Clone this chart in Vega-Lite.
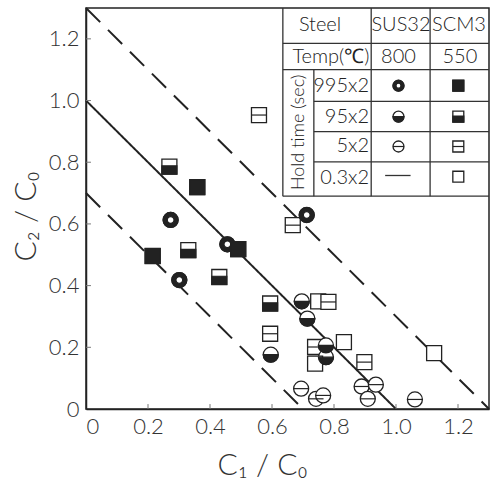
{
  "$schema": "https://vega.github.io/schema/vega-lite/v6.json",
  "width": 403,
  "height": 401,
  "autosize": {"type": "none"},
  "padding": {"left": 86, "top": 8, "right": 9, "bottom": 72},
  "background": "white",
  "resolve": {"scale": {"shape": "independent", "strokeDash": "independent"}},
  "config": {
    "view": {"stroke": "#222", "strokeWidth": 1.5},
    "font": "Lato",
    "axis": {
      "grid": false,
      "domainColor": "#222",
      "domainWidth": 1.5,
      "ticks": false,
      "labelFont": "Lato",
      "labelFontWeight": 300,
      "labelFontSize": 22,
      "labelColor": "#333",
      "titleFont": "Lato",
      "titleFontWeight": 300,
      "titleFontSize": 30,
      "titleColor": "#333"
    }
  },
  "datasets": {
    "lines": [
      {"x1": 0, "y1": 1.3, "x2": 1.3, "y2": 0, "style": "dashed"},
      {"x1": 0, "y1": 1.0, "x2": 1.0, "y2": 0, "style": "solid"},
      {"x1": 0, "y1": 0.7, "x2": 0.7, "y2": 0, "style": "dashed"}
    ],
    "ticks": [
      {"v": 0.2}, {"v": 0.4}, {"v": 0.6}, {"v": 0.8}, {"v": 1.0}, {"v": 1.2}
    ],
    "grid": [
      {"x1": 0.635, "y1": 1.185, "x2": 1.3, "y2": 1.185},
      {"x1": 0.635, "y1": 1.1, "x2": 1.3, "y2": 1.1},
      {"x1": 0.735, "y1": 0.997, "x2": 1.3, "y2": 0.997},
      {"x1": 0.735, "y1": 0.899, "x2": 1.3, "y2": 0.899},
      {"x1": 0.735, "y1": 0.801, "x2": 1.3, "y2": 0.801},
      {"x1": 0.635, "y1": 0.69, "x2": 1.3, "y2": 0.69},
      {"x1": 0.635, "y1": 0.69, "x2": 0.635, "y2": 1.3},
      {"x1": 0.735, "y1": 0.69, "x2": 0.735, "y2": 1.1},
      {"x1": 0.92, "y1": 0.69, "x2": 0.92, "y2": 1.3},
      {"x1": 1.11, "y1": 0.69, "x2": 1.11, "y2": 1.3},
      {"x1": 0.965, "y1": 0.757, "x2": 1.047, "y2": 0.757}
    ],
    "headers": [
      {"x": 0.755, "y": 1.246, "label": "Steel"},
      {"x": 1.016, "y": 1.246, "label": "SUS32"},
      {"x": 1.203, "y": 1.246, "label": "SCM3"},
      {"x": 0.79, "y": 1.142, "label": "Temp(℃)"},
      {"x": 1.008, "y": 1.142, "label": "800"},
      {"x": 1.206, "y": 1.142, "label": "550"}
    ],
    "holds": [
      {"x": 0.913, "y": 1.046, "label": "995x2"},
      {"x": 0.913, "y": 0.948, "label": "95x2"},
      {"x": 0.913, "y": 0.851, "label": "5x2"},
      {"x": 0.913, "y": 0.748, "label": "0.3x2"}
    ],
    "rotated": [
      {"x": 0.686, "y": 0.897, "label": "Hold time (sec)"}
    ],
    "legend": [
      {"c1": 1.008, "c2": 1.048, "steel": "SUS32", "hold": "995x2"},
      {"c1": 1.201, "c2": 1.048, "steel": "SCM3", "hold": "995x2"},
      {"c1": 1.008, "c2": 0.948, "steel": "SUS32", "hold": "95x2"},
      {"c1": 1.201, "c2": 0.948, "steel": "SCM3", "hold": "95x2"},
      {"c1": 1.008, "c2": 0.851, "steel": "SUS32", "hold": "5x2"},
      {"c1": 1.201, "c2": 0.851, "steel": "SCM3", "hold": "5x2"},
      {"c1": 1.201, "c2": 0.753, "steel": "SCM3", "hold": "0.3x2"}
    ],
    "points": [
      {"c1": 0.269, "c2": 0.786, "steel": "SCM3", "hold": "95x2"},
      {"c1": 0.359, "c2": 0.719, "steel": "SCM3", "hold": "995x2"},
      {"c1": 0.273, "c2": 0.613, "steel": "SUS32", "hold": "995x2"},
      {"c1": 0.215, "c2": 0.496, "steel": "SCM3", "hold": "995x2"},
      {"c1": 0.330, "c2": 0.515, "steel": "SCM3", "hold": "95x2"},
      {"c1": 0.301, "c2": 0.418, "steel": "SUS32", "hold": "995x2"},
      {"c1": 0.430, "c2": 0.428, "steel": "SCM3", "hold": "95x2"},
      {"c1": 0.456, "c2": 0.534, "steel": "SUS32", "hold": "995x2"},
      {"c1": 0.491, "c2": 0.518, "steel": "SCM3", "hold": "995x2"},
      {"c1": 0.558, "c2": 0.953, "steel": "SCM3", "hold": "5x2"},
      {"c1": 0.667, "c2": 0.596, "steel": "SCM3", "hold": "5x2"},
      {"c1": 0.712, "c2": 0.629, "steel": "SUS32", "hold": "995x2"},
      {"c1": 0.594, "c2": 0.342, "steel": "SCM3", "hold": "95x2"},
      {"c1": 0.696, "c2": 0.349, "steel": "SUS32", "hold": "95x2"},
      {"c1": 0.749, "c2": 0.349, "steel": "SCM3", "hold": "0.3x2"},
      {"c1": 0.782, "c2": 0.347, "steel": "SCM3", "hold": "5x2"},
      {"c1": 0.714, "c2": 0.293, "steel": "SUS32", "hold": "95x2"},
      {"c1": 0.594, "c2": 0.244, "steel": "SCM3", "hold": "5x2"},
      {"c1": 0.596, "c2": 0.176, "steel": "SUS32", "hold": "95x2"},
      {"c1": 0.739, "c2": 0.201, "steel": "SCM3", "hold": "5x2"},
      {"c1": 0.774, "c2": 0.206, "steel": "SUS32", "hold": "95x2"},
      {"c1": 0.774, "c2": 0.168, "steel": "SUS32", "hold": "95x2"},
      {"c1": 0.832, "c2": 0.217, "steel": "SCM3", "hold": "0.3x2"},
      {"c1": 0.739, "c2": 0.147, "steel": "SCM3", "hold": "0.3x2"},
      {"c1": 0.898, "c2": 0.152, "steel": "SCM3", "hold": "5x2"},
      {"c1": 1.123, "c2": 0.181, "steel": "SCM3", "hold": "0.3x2"},
      {"c1": 0.694, "c2": 0.066, "steel": "SUS32", "hold": "5x2"},
      {"c1": 0.742, "c2": 0.033, "steel": "SUS32", "hold": "5x2"},
      {"c1": 0.765, "c2": 0.044, "steel": "SUS32", "hold": "5x2"},
      {"c1": 0.889, "c2": 0.073, "steel": "SUS32", "hold": "5x2"},
      {"c1": 0.935, "c2": 0.079, "steel": "SUS32", "hold": "5x2"},
      {"c1": 0.909, "c2": 0.033, "steel": "SUS32", "hold": "5x2"},
      {"c1": 1.061, "c2": 0.031, "steel": "SUS32", "hold": "5x2"}
    ]
  },
  "layer": [
    {
      "data": {"name": "lines"},
      "mark": {"type": "rule", "color": "#222", "strokeWidth": 2},
      "encoding": {
        "x": {"field": "x1", "type": "quantitative", "scale": {"domain": [0, 1.3], "nice": false}, "title": "C₁ / C₀",
          "axis": {"values": [0, 0.2, 0.4, 0.6, 0.8, 1.0, 1.2], "labelExpr": "datum.value == 0 ? '0' : format(datum.value, '.1f')", "labelPadding": 7, "titleX": 176, "titleY": 56, "titleAlign": "center", "titleBaseline": "middle"}},
        "y": {"field": "y1", "type": "quantitative", "scale": {"domain": [0, 1.3], "nice": false}, "title": "C₂ / C₀",
          "axis": {"values": [0, 0.2, 0.4, 0.6, 0.8, 1.0, 1.2], "labelExpr": "datum.value == 0 ? '0' : format(datum.value, '.1f')", "labelPadding": 7, "titleX": -60, "titleY": 208, "titleAngle": -90, "titleAlign": "center", "titleBaseline": "middle"}},
        "x2": {"field": "x2"},
        "y2": {"field": "y2"},
        "strokeDash": {"field": "style", "type": "nominal", "scale": {"domain": ["dashed", "solid"], "range": [[20, 11], [1, 0]]}, "legend": null}
      }
    },
    {
      "data": {"name": "ticks"},
      "mark": {"type": "rule", "color": "#777", "strokeWidth": 1},
      "encoding": {
        "x": {"field": "v", "type": "quantitative", "scale": {"domain": [0, 1.3], "nice": false}, "title": "C₁ / C₀"},
        "y": {"datum": 0, "type": "quantitative", "scale": {"domain": [0, 1.3], "nice": false}, "title": "C₂ / C₀"},
        "y2": {"datum": 0.016}
      }
    },
    {
      "data": {"name": "ticks"},
      "mark": {"type": "rule", "color": "#777", "strokeWidth": 1},
      "encoding": {
        "y": {"field": "v", "type": "quantitative", "scale": {"domain": [0, 1.3], "nice": false}, "title": "C₂ / C₀"},
        "x": {"datum": 0, "type": "quantitative", "scale": {"domain": [0, 1.3], "nice": false}, "title": "C₁ / C₀"},
        "x2": {"datum": 0.016}
      }
    },
    {
      "data": {"name": "grid"},
      "mark": {"type": "rule", "color": "#333", "strokeWidth": 1.3},
      "encoding": {
        "x": {"field": "x1", "type": "quantitative", "scale": {"domain": [0, 1.3], "nice": false}, "title": "C₁ / C₀"},
        "y": {"field": "y1", "type": "quantitative", "scale": {"domain": [0, 1.3], "nice": false}, "title": "C₂ / C₀"},
        "x2": {"field": "x2"},
        "y2": {"field": "y2"}
      }
    },
    {
      "data": {"name": "headers"},
      "mark": {"type": "text", "fontSize": 20, "font": "Lato", "fontWeight": 300, "color": "#222", "align": "center", "baseline": "middle"},
      "encoding": {
        "x": {"field": "x", "type": "quantitative", "scale": {"domain": [0, 1.3], "nice": false}, "title": "C₁ / C₀"},
        "y": {"field": "y", "type": "quantitative", "scale": {"domain": [0, 1.3], "nice": false}, "title": "C₂ / C₀"},
        "text": {"field": "label"}
      }
    },
    {
      "data": {"name": "holds"},
      "mark": {"type": "text", "fontSize": 20, "font": "Lato", "fontWeight": 300, "color": "#222", "align": "right", "baseline": "middle"},
      "encoding": {
        "x": {"field": "x", "type": "quantitative", "scale": {"domain": [0, 1.3], "nice": false}, "title": "C₁ / C₀"},
        "y": {"field": "y", "type": "quantitative", "scale": {"domain": [0, 1.3], "nice": false}, "title": "C₂ / C₀"},
        "text": {"field": "label"}
      }
    },
    {
      "data": {"name": "rotated"},
      "mark": {"type": "text", "fontSize": 18, "font": "Lato", "fontWeight": 300, "color": "#222", "align": "center", "baseline": "middle", "angle": 270},
      "encoding": {
        "x": {"field": "x", "type": "quantitative", "scale": {"domain": [0, 1.3], "nice": false}, "title": "C₁ / C₀"},
        "y": {"field": "y", "type": "quantitative", "scale": {"domain": [0, 1.3], "nice": false}, "title": "C₂ / C₀"},
        "text": {"field": "label"}
      }
    },
    {
      "data": {"name": "points"},
      "mark": {"type": "point", "filled": true, "fill": "white", "stroke": "#222", "strokeWidth": 1.3, "size": 225, "opacity": 1},
      "encoding": {
        "x": {"field": "c1", "type": "quantitative", "scale": {"domain": [0, 1.3], "nice": false}, "title": "C₁ / C₀"},
        "y": {"field": "c2", "type": "quantitative", "scale": {"domain": [0, 1.3], "nice": false}, "title": "C₂ / C₀"},
        "shape": {"field": "steel", "type": "nominal", "scale": {"domain": ["SUS32", "SCM3"], "range": ["circle", "square"]}, "legend": null}
      }
    },
    {
      "data": {"name": "points"},
      "transform": [{"filter": "datum.steel == 'SUS32'"}],
      "mark": {"type": "point", "filled": true, "fill": "#222", "stroke": "#222", "strokeWidth": 1.2, "size": 225, "opacity": 1},
      "encoding": {
        "x": {"field": "c1", "type": "quantitative", "scale": {"domain": [0, 1.3], "nice": false}, "title": "C₁ / C₀"},
        "y": {"field": "c2", "type": "quantitative", "scale": {"domain": [0, 1.3], "nice": false}, "title": "C₂ / C₀"},
        "shape": {"field": "hold", "type": "nominal", "scale": {"domain": ["995x2", "95x2", "5x2"], "range": ["M -1 0 A 1 1 0 1 0 1 0 A 1 1 0 1 0 -1 0 Z M -0.45 0 A 0.45 0.45 0 1 1 0.45 0 A 0.45 0.45 0 1 1 -0.45 0 Z", "M -1 0 A 1 1 0 0 0 1 0 Z", "M -1 0 L 1 0"]}, "legend": null}
      }
    },
    {
      "data": {"name": "points"},
      "transform": [{"filter": "datum.steel == 'SCM3' && datum.hold != '0.3x2'"}],
      "mark": {"type": "point", "filled": true, "fill": "#222", "stroke": "#222", "strokeWidth": 1.2, "size": 225, "opacity": 1},
      "encoding": {
        "x": {"field": "c1", "type": "quantitative", "scale": {"domain": [0, 1.3], "nice": false}, "title": "C₁ / C₀"},
        "y": {"field": "c2", "type": "quantitative", "scale": {"domain": [0, 1.3], "nice": false}, "title": "C₂ / C₀"},
        "shape": {"field": "hold", "type": "nominal", "scale": {"domain": ["995x2", "95x2", "5x2"], "range": ["M -1 -1 L 1 -1 L 1 1 L -1 1 Z", "M -1 -0.1 L 1 -0.1 L 1 1 L -1 1 Z", "M -1 0 L 1 0"]}, "legend": null}
      }
    },
    {
      "data": {"name": "legend"},
      "mark": {"type": "point", "filled": true, "fill": "white", "stroke": "#222", "strokeWidth": 1.3, "size": 120, "opacity": 1},
      "encoding": {
        "x": {"field": "c1", "type": "quantitative", "scale": {"domain": [0, 1.3], "nice": false}, "title": "C₁ / C₀"},
        "y": {"field": "c2", "type": "quantitative", "scale": {"domain": [0, 1.3], "nice": false}, "title": "C₂ / C₀"},
        "shape": {"field": "steel", "type": "nominal", "scale": {"domain": ["SUS32", "SCM3"], "range": ["circle", "square"]}, "legend": null}
      }
    },
    {
      "data": {"name": "legend"},
      "transform": [{"filter": "datum.steel == 'SUS32'"}],
      "mark": {"type": "point", "filled": true, "fill": "#222", "stroke": "#222", "strokeWidth": 1.2, "size": 120, "opacity": 1},
      "encoding": {
        "x": {"field": "c1", "type": "quantitative", "scale": {"domain": [0, 1.3], "nice": false}, "title": "C₁ / C₀"},
        "y": {"field": "c2", "type": "quantitative", "scale": {"domain": [0, 1.3], "nice": false}, "title": "C₂ / C₀"},
        "shape": {"field": "hold", "type": "nominal", "scale": {"domain": ["995x2", "95x2", "5x2"], "range": ["M -1 0 A 1 1 0 1 0 1 0 A 1 1 0 1 0 -1 0 Z M -0.45 0 A 0.45 0.45 0 1 1 0.45 0 A 0.45 0.45 0 1 1 -0.45 0 Z", "M -1 0 A 1 1 0 0 0 1 0 Z", "M -1 0 L 1 0"]}, "legend": null}
      }
    },
    {
      "data": {"name": "legend"},
      "transform": [{"filter": "datum.steel == 'SCM3' && datum.hold != '0.3x2'"}],
      "mark": {"type": "point", "filled": true, "fill": "#222", "stroke": "#222", "strokeWidth": 1.2, "size": 120, "opacity": 1},
      "encoding": {
        "x": {"field": "c1", "type": "quantitative", "scale": {"domain": [0, 1.3], "nice": false}, "title": "C₁ / C₀"},
        "y": {"field": "c2", "type": "quantitative", "scale": {"domain": [0, 1.3], "nice": false}, "title": "C₂ / C₀"},
        "shape": {"field": "hold", "type": "nominal", "scale": {"domain": ["995x2", "95x2", "5x2"], "range": ["M -1 -1 L 1 -1 L 1 1 L -1 1 Z", "M -1 -0.1 L 1 -0.1 L 1 1 L -1 1 Z", "M -1 0 L 1 0"]}, "legend": null}
      }
    }
  ]
}
